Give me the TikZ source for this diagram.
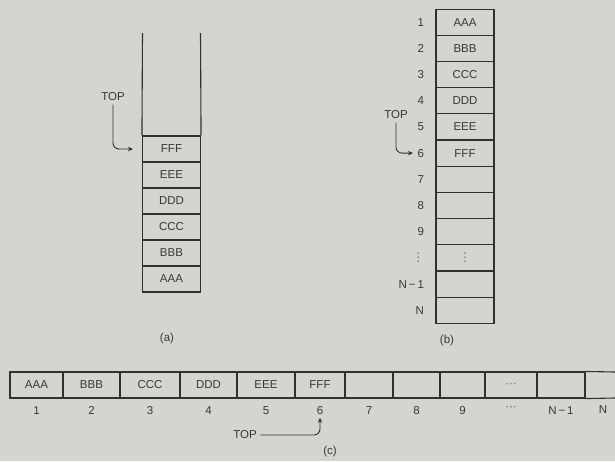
\documentclass[tikz,border=0pt]{standalone}
\usepackage{fontspec}
\setmainfont{Liberation Sans}
\newfontfamily\dejavu{DejaVu Sans}
\usetikzlibrary{arrows.meta}
\definecolor{paper}{HTML}{D4D4D0}
\definecolor{ink}{HTML}{303030}
\definecolor{txt}{HTML}{383838}
\definecolor{dotc}{HTML}{6A6A6A}
\newcommand{\vdotsmall}{{\dejavu\fontsize{12}{12}\selectfont\textcolor{dotc}{⋮}}}
\newcommand{\hdotsmall}{{\dejavu\fontsize{11}{11}\selectfont\textcolor{dotc}{⋯}}}
\begin{document}
\begin{tikzpicture}[x=1pt,y=-1pt,
  every node/.style={text=txt,font=\fontsize{11.5}{13}\selectfont},
  cellbox/.style={draw=ink,line width=1.1pt,minimum width=58pt,minimum height=26pt,inner sep=0pt},
  hcell/.style={draw=ink,line width=1.1pt,minimum height=26pt,inner sep=0pt},
  wire/.style={draw=ink,line width=1.1pt},
  toparrow/.style={draw=ink,line width=0.9pt,rounded corners=6pt,-{Stealth[length=5pt,width=4.5pt]}},
  caption/.style={font=\fontsize{11.5}{13}\selectfont}]
\fill[paper] (0,0) rectangle (615,461);
\useasboundingbox (0,0) rectangle (615,461);

% ---------- (a) ----------
\node[cellbox] (a1) at (171.5,279) {AAA};
\node[cellbox] (a2) at (171.5,253) {BBB};
\node[cellbox] (a3) at (171.5,227) {CCC};
\node[cellbox] (a4) at (171.5,201) {DDD};
\node[cellbox] (a5) at (171.5,175) {EEE};
\node[cellbox] (a6) at (171.5,149) {FFF};
\coordinate (awl) at (142.5,33);
\coordinate (awr) at (200.5,33);
\draw[wire] (awl) -- (a6.north west);
\draw[wire] (awr) -- (a6.north east);
\node (topa) at (113,97) {TOP};
\draw[toparrow] (topa.south) |- ([xshift=-9pt]a6.west);
\node[caption] (capa) at (167,339) {(a)};

% ---------- (b) ----------
\node[cellbox] (b1)  at (465,22.1)  {AAA};
\node[cellbox] (b2)  at (465,48.3)  {BBB};
\node[cellbox] (b3)  at (465,74.5)  {CCC};
\node[cellbox] (b4)  at (465,100.7) {DDD};
\node[cellbox] (b5)  at (465,126.9) {EEE};
\node[cellbox] (b6)  at (465,153.1) {FFF};
\node[cellbox] (b7)  at (465,179.3) {};
\node[cellbox] (b8)  at (465,205.5) {};
\node[cellbox] (b9)  at (465,231.7) {};
\node[cellbox] (b10) at (465,257.9) {\vdotsmall};
\node[cellbox] (b11) at (465,284.1) {};
\node[cellbox] (b12) at (465,310.3) {};
\node[anchor=east] (lb1)  at ([xshift=-8pt]b1.west)  {1};
\node[anchor=east] (lb2)  at ([xshift=-8pt]b2.west)  {2};
\node[anchor=east] (lb3)  at ([xshift=-8pt]b3.west)  {3};
\node[anchor=east] (lb4)  at ([xshift=-8pt]b4.west)  {4};
\node[anchor=east] (lb5)  at ([xshift=-8pt]b5.west)  {5};
\node[anchor=east] (lb6)  at ([xshift=-8pt]b6.west)  {6};
\node[anchor=east] (lb7)  at ([xshift=-8pt]b7.west)  {7};
\node[anchor=east] (lb8)  at ([xshift=-8pt]b8.west)  {8};
\node[anchor=east] (lb9)  at ([xshift=-8pt]b9.west)  {9};
\node[anchor=east,inner sep=1pt] (lb10) at ([xshift=-10pt]b10.west) {\vdotsmall};
\node[anchor=east] (lb11) at ([xshift=-8pt]b11.west) {N\,−\,1};
\node[anchor=east] (lb12) at ([xshift=-8pt]b12.west) {N};
\node (topb) at (396,115) {TOP};
\draw[toparrow] (topb.south) |- ([xshift=-1pt]lb6.west);
\node[caption] (capb) at (447,341) {(b)};

% ---------- (c) ----------
\node[hcell,minimum width=53pt] (c1)  at (36.5,385)  {AAA};
\node[hcell,minimum width=57pt] (c2)  at (91.5,385)  {BBB};
\node[hcell,minimum width=60pt] (c3)  at (150,385)   {CCC};
\node[hcell,minimum width=57pt] (c4)  at (208.5,385) {DDD};
\node[hcell,minimum width=58pt] (c5)  at (266,385)   {EEE};
\node[hcell,minimum width=50pt] (c6)  at (320,385)   {FFF};
\node[hcell,minimum width=48pt] (c7)  at (369,385)   {};
\node[hcell,minimum width=47pt] (c8)  at (416.5,385) {};
\node[hcell,minimum width=45pt] (c9)  at (462.5,385) {};
\node[hcell,minimum width=52pt] (c10) at (511,385)   {\hdotsmall};
\node[hcell,minimum width=48pt] (c11) at (561,385)   {};
\node[minimum height=26pt,minimum width=30pt,inner sep=0pt] (c12) at (600,385) {};
\coordinate (cendt) at (615,372);
\coordinate (cendb) at (615,398);
\draw[wire] (c11.north east) -- (cendt);
\draw[wire] (c11.south east) -- (cendb);
\node[anchor=north] (lc1)  at ([yshift=-4pt]c1.south)  {1};
\node[anchor=north] (lc2)  at ([yshift=-4pt]c2.south)  {2};
\node[anchor=north] (lc3)  at ([yshift=-4pt]c3.south)  {3};
\node[anchor=north] (lc4)  at ([yshift=-4pt]c4.south)  {4};
\node[anchor=north] (lc5)  at ([yshift=-4pt]c5.south)  {5};
\node[anchor=north] (lc6)  at ([yshift=-4pt]c6.south)  {6};
\node[anchor=north] (lc7)  at ([yshift=-4pt]c7.south)  {7};
\node[anchor=north] (lc8)  at ([yshift=-4pt]c8.south)  {8};
\node[anchor=north] (lc9)  at ([yshift=-4pt]c9.south)  {9};
\node[anchor=north] (lc10) at ([yshift=-4pt]c10.south) {\hdotsmall};
\node[anchor=north] (lc11) at ([yshift=-4pt]c11.south) {N\,−\,1};
\node[anchor=north] (lc12) at ([yshift=-4pt,xshift=3pt]c12.south) {N};
\node (topc) at (245,435) {TOP};
\draw[toparrow] (topc.east) -| (lc6.south);
\node[caption] (capc) at (330,452) {(c)};
\end{tikzpicture}
\end{document}
